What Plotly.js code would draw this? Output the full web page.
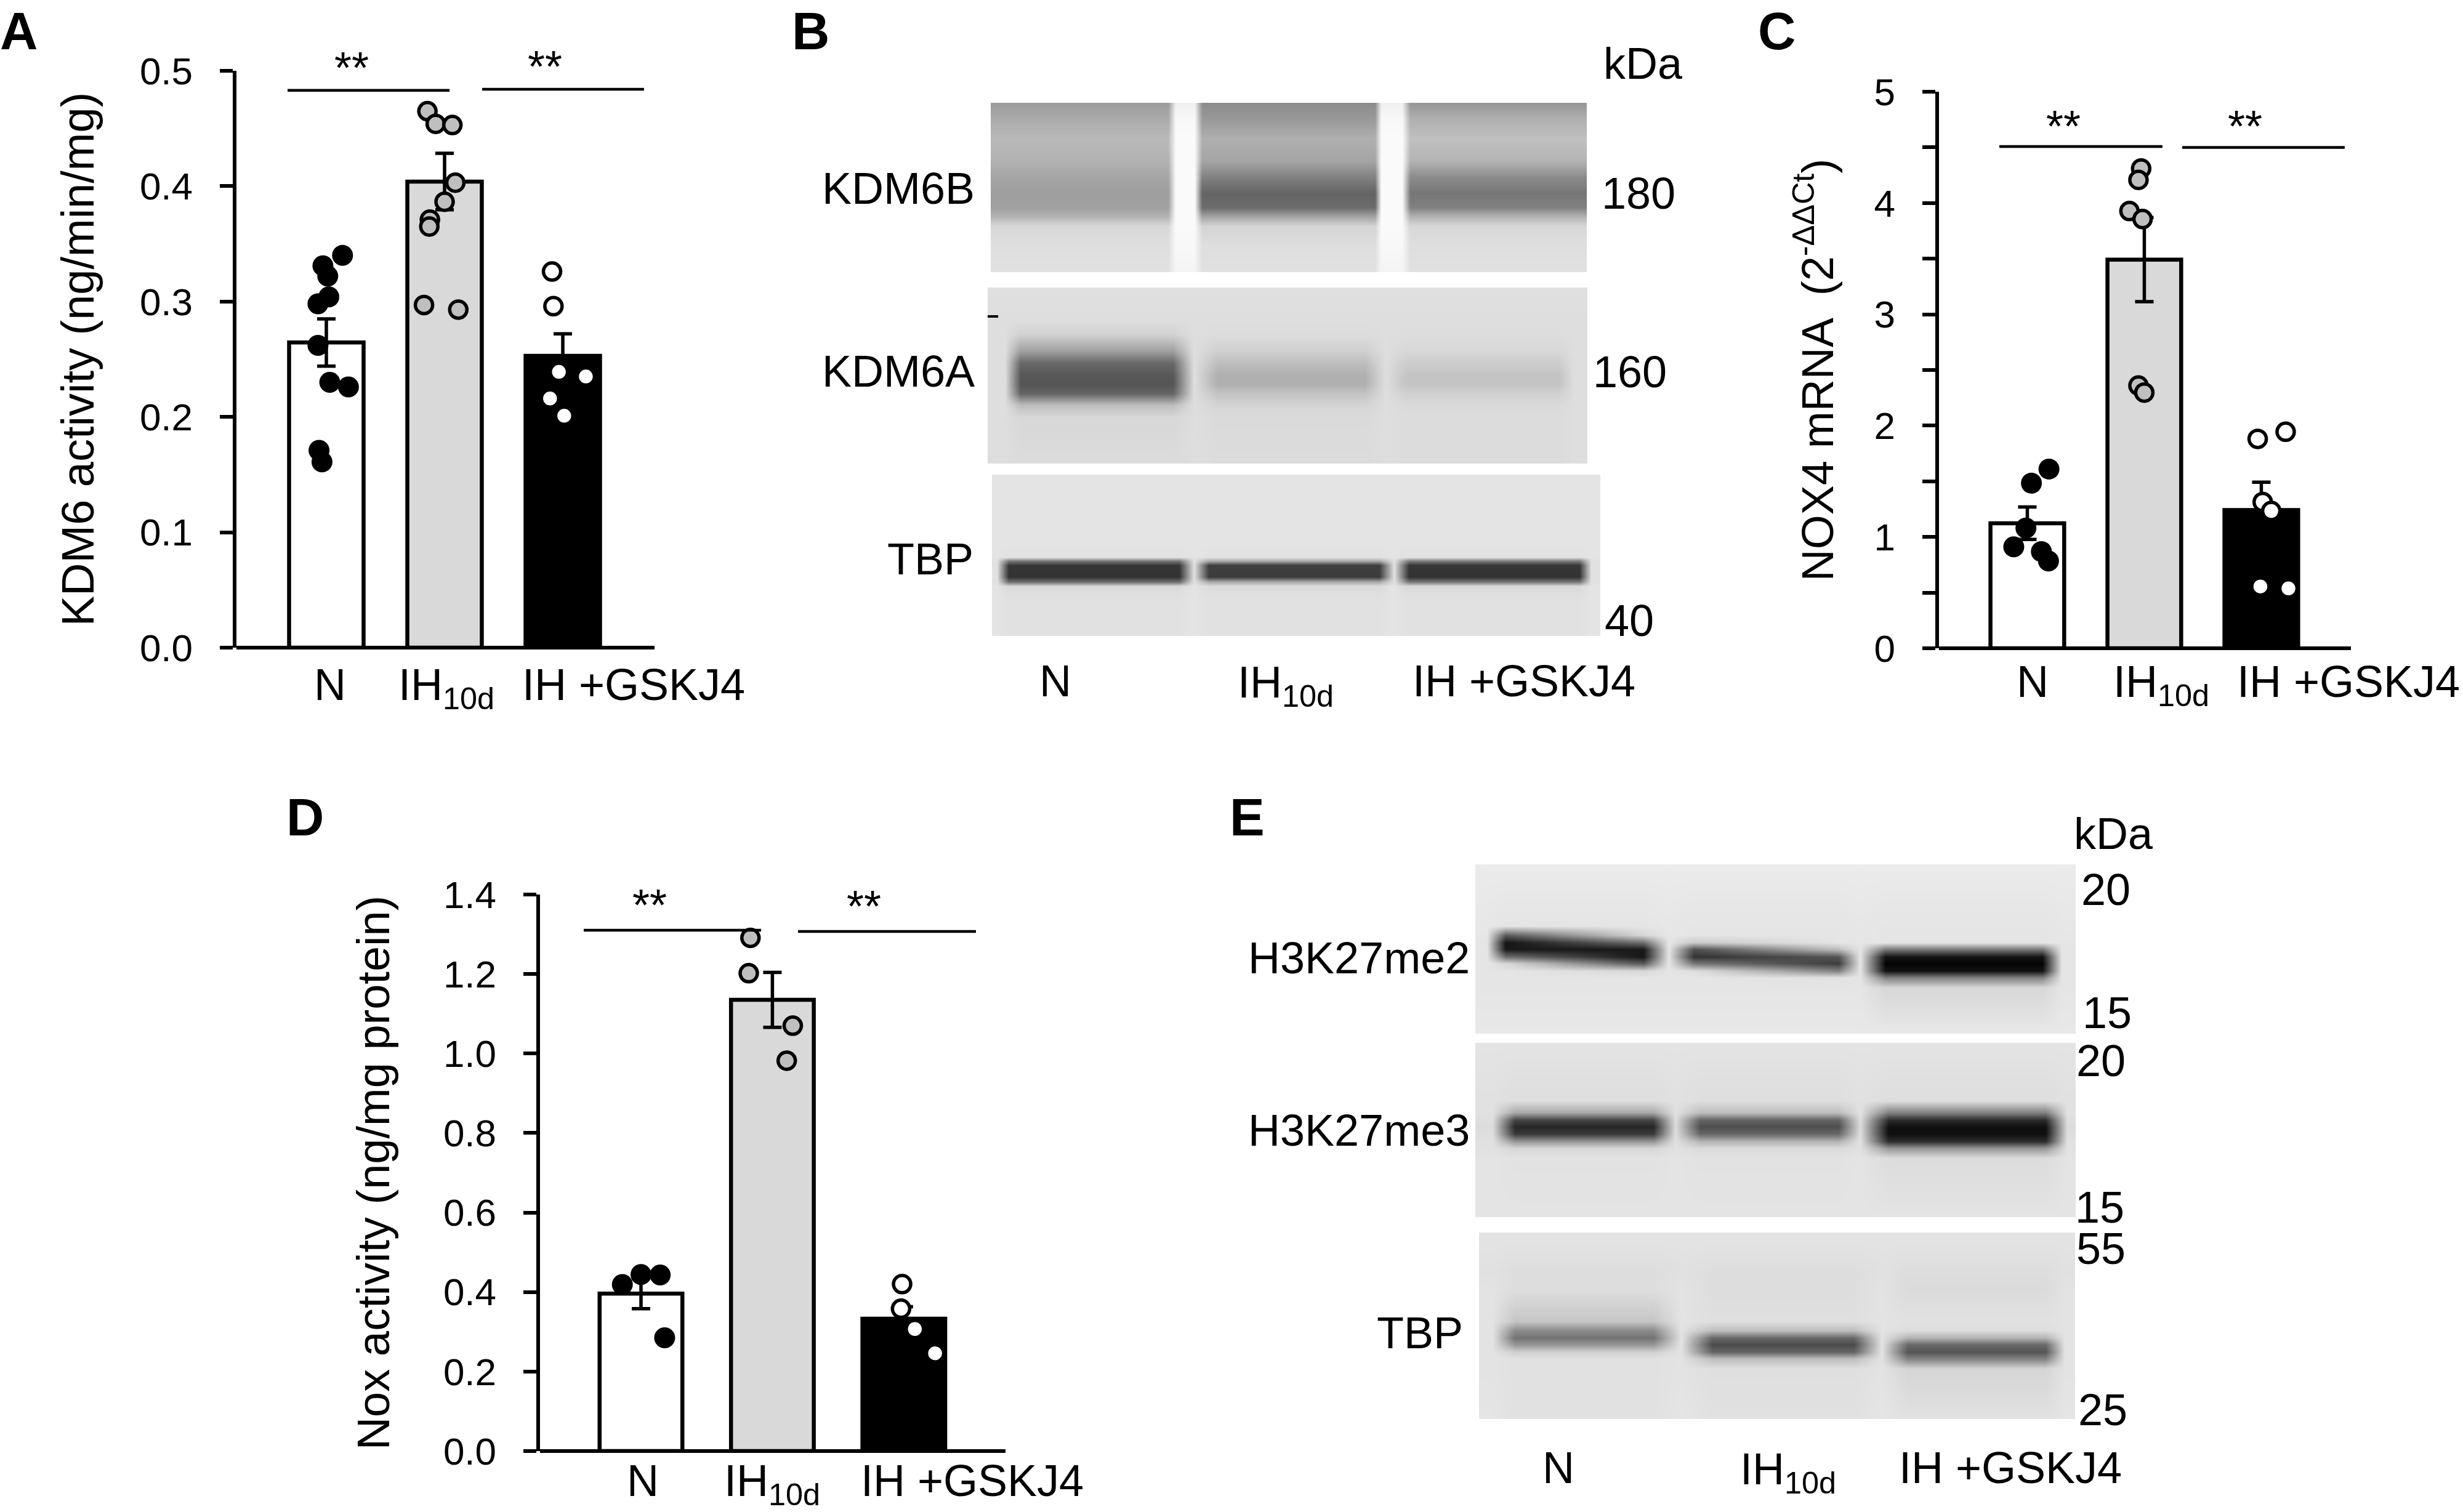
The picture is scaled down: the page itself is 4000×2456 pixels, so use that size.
<!DOCTYPE html>
<html>
<head>
<meta charset="utf-8">
<script src="https://cdn.plot.ly/plotly-3.0.1.min.js"></script>
<style>html,body{margin:0;padding:0;background:#fff}</style>
</head>
<body>
<div id="plot" style="width:4000px;height:2456px"></div>
<script>
const W = 4000, H = 2456;
const FONT = "'Liberation Sans', Arial, sans-serif";
const groups = [1, 2, 3];
const barFills = ["#ffffff", "#d9d9d9", "#000000"];
const dotFills = ["#000000", "#bfbfbf", "#ffffff"];

// panel A
const kdmMeans = [0.2645, 0.404, 0.253];
const kdmErr = [0.0205, 0.0245, 0.019];
const kdmNx = [1.137, 0.971, 1.012, 1.021, 0.929, 0.929, 1.029, 1.187, 0.938, 0.963];
const kdmNy = [0.340, 0.331, 0.322, 0.304, 0.298, 0.262, 0.230, 0.226, 0.171, 0.161];
const kdmIHx = [1.855, 1.925, 2.066, 2.091, 2.0, 1.876, 1.871, 1.826, 2.116];
const kdmIHy = [0.465, 0.454, 0.453, 0.403, 0.3865, 0.371, 0.365, 0.297, 0.293];
const kdmGSx = [2.909, 2.921, 2.967, 3.195, 2.892, 3.012];
const kdmGSy = [0.326, 0.296, 0.239, 0.235, 0.216, 0.201];

// panel C
const noxMeans = [1.123, 3.492, 1.242];
const noxErr = [0.146, 0.378, 0.25];
const noxNx = [1.185, 1.035, 0.988, 0.884, 1.12, 1.181];
const noxNy = [1.61, 1.483, 1.08, 0.911, 0.869, 0.784];
const noxIHx = [1.973, 1.95, 1.873, 1.985, 1.95, 2.0];
const noxIHy = [4.31, 4.208, 3.928, 3.856, 2.36, 2.297];
const noxGSx = [3.208, 2.969, 3.012, 3.085, 2.992, 3.232];
const noxGSy = [1.945, 1.881, 1.314, 1.233, 0.555, 0.538];

// panel D
const actMeans = [0.396, 1.135, 0.333];
const actErr = [0.038, 0.069, 0.03];
const actNx = [0.858, 1.0, 1.146, 1.18];
const actNy = [0.419, 0.444, 0.443, 0.285];
const actIHx = [1.833, 1.82, 2.155, 2.109];
const actIHy = [1.291, 1.202, 1.07, 0.982];
const actGSx = [2.987, 2.979, 3.084, 3.238];
const actGSy = [0.42, 0.358, 0.307, 0.246];

const xLabels = ["N", "IH<sub>10d</sub>", "IH +GSKJ4"];

// blot B: KDM6B
const b1Cols = [0, 0.298, 0.31, 0.342, 0.354, 0.645, 0.655, 0.69, 0.704, 1];
const b1Rows = [0, 0.09, 0.21, 0.34, 0.436, 0.533, 0.617, 0.672, 0.728, 0.839, 1];
const b1Bg = [240, 248, 250, 250, 250, 250, 250, 250, 250, 248, 244];
const b1N = [155, 170, 185, 178, 165, 158, 160, 180, 215, 222, 225];
const b1IH = [140, 152, 175, 165, 130, 100, 108, 165, 212, 222, 225];
const b1GS = [150, 175, 192, 180, 140, 118, 130, 180, 215, 222, 225];

// blot B: KDM6A
const b2Cols = [0, 0.029, 0.054, 0.309, 0.344, 0.383, 0.629, 0.663, 0.697, 0.953, 0.977, 1];
const b2Rows = [0, 0.187, 0.267, 0.361, 0.428, 0.495, 0.548, 0.602, 0.668, 0.735, 1];
const b2Bg = [224, 222, 222, 222, 222, 222, 222, 222, 222, 222, 222];
const b2N = [224, 222, 210, 160, 105, 88, 85, 100, 190, 215, 220];
const b2IH = [224, 222, 220, 208, 190, 176, 176, 195, 212, 218, 220];
const b2GS = [224, 222, 221, 216, 205, 196, 196, 208, 218, 220, 220];

// blot B: TBP
const b3Cols = [0, 0.008, 0.027, 0.308, 0.332, 0.356, 0.637, 0.661, 0.685, 0.966, 0.985, 1];
const b3Rows = [0, 0.415, 0.51, 0.535, 0.56, 0.635, 0.665, 0.69, 0.781, 1];
const b3Bg = [228, 228, 228, 225, 225, 225, 225, 228, 228, 228];
const b3N = [228, 228, 225, 120, 55, 50, 110, 218, 225, 225];
const b3IH = [228, 228, 226, 170, 62, 60, 170, 220, 225, 225];
const b3GS = [228, 228, 225, 125, 55, 50, 120, 218, 225, 225];

// blot E: H3K27me2
const e1Cols = [0, 0.019, 0.05, 0.28, 0.322, 0.364, 0.605, 0.641, 0.683, 0.945, 0.976, 1];
const e1Rows = [0, 0.363, 0.419, 0.461, 0.503, 0.545, 0.587, 0.629, 0.67, 0.726, 1];
const e1Bg = [235, 231, 230, 229, 229, 229, 229, 229, 229, 229, 232];
const e1NL = [235, 229, 90, 20, 25, 110, 215, 229, 229, 229, 232];
const e1NR = [235, 229, 215, 110, 25, 22, 90, 215, 229, 229, 232];
const e1IHL = [235, 229, 229, 200, 80, 50, 120, 222, 229, 229, 232];
const e1IHR = [235, 229, 229, 229, 190, 85, 60, 130, 225, 229, 232];
const e1GS = [235, 229, 229, 229, 120, 18, 5, 18, 130, 215, 232];

// blot E: H3K27me3
const e2Cols = [0, 0.029, 0.066, 0.296, 0.333, 0.374, 0.605, 0.641, 0.688, 0.95, 0.986, 1];
const e2Rows = [0, 0.333, 0.401, 0.442, 0.482, 0.523, 0.564, 0.604, 0.659, 1];
const e2Bg = [228, 225, 225, 222, 220, 222, 225, 225, 228, 228];
const e2N = [228, 222, 170, 70, 38, 60, 150, 215, 226, 228];
const e2IH = [228, 222, 190, 100, 78, 105, 180, 218, 226, 228];
const e2GS = [228, 222, 130, 45, 15, 15, 45, 150, 220, 228];

// blot E: TBP
const e3Cols = [0, 0.023, 0.06, 0.292, 0.339, 0.392, 0.629, 0.676, 0.719, 0.95, 0.982, 1];
const e3Rows = [0, 0.208, 0.31, 0.475, 0.525, 0.563, 0.602, 0.64, 0.678, 0.728, 1];
const e3Bg = [228, 225, 227, 227, 227, 227, 227, 227, 227, 227, 229];
const e3N = [229, 221, 221, 198, 140, 115, 150, 208, 225, 225, 225];
const e3IH = [229, 221, 221, 223, 190, 105, 75, 100, 190, 223, 225];
const e3GS = [229, 221, 219, 225, 221, 180, 105, 85, 130, 213, 225];

function domX(a, b) { return [a / W, b / W]; }
function domY(top, bottom) { return [1 - bottom / H, 1 - top / H]; }

function barPanel(n, means, err, pts) {
	const out = [{
		type: "bar", x: groups, y: means, width: 0.63,
		marker: { color: barFills, line: { color: "#000", width: 6.5 } },
		error_y: { type: "data", array: err, color: "#000", thickness: 5.5, width: 15 },
		xaxis: "x" + n, yaxis: "y" + n, showlegend: false
	}];
	pts.forEach(function (p, i) {
		const hollow = i > 0;
		out.push({
			type: "scatter", mode: "markers", x: p[0], y: p[1],
			marker: {
				color: dotFills[i], size: hollow ? 28 : 34,
				line: { color: "#000", width: hollow ? 5.5 : 0 }
			},
			xaxis: "x" + n, yaxis: "y" + n, showlegend: false
		});
	});
	return out;
}

function blot(n, cols, rows, lanes) {
	// one column of z per entry in lanes, rows run top to bottom
	const z = rows.map(function (_, r) { return lanes.map(function (l) { return l[r]; }); });
	return {
		type: "heatmap", x: cols, y: rows, z: z, zsmooth: "best", zmin: 0, zmax: 255,
		colorscale: [[0, "rgb(0,0,0)"], [1, "rgb(255,255,255)"]], showscale: false,
		hoverinfo: "skip", xaxis: "x" + n, yaxis: "y" + n
	};
}

function chartAxes(left, right, top, bottom, x0, x1, ymax, yticks, yfmt, tickvals, labelGap, title, titleSize, standoff) {
	return {
		x: {
			domain: domX(left, right), range: [x0, x1], showline: false, zeroline: false, showgrid: false,
			tickmode: "array", tickvals: tickvals, ticktext: xLabels, ticks: "", ticklabelstandoff: labelGap,
			tickfont: { size: 72 }, fixedrange: true
		},
		y: {
			domain: domY(top, bottom), range: [0, ymax], showline: true, linewidth: 6.5, linecolor: "#000",
			zeroline: true, zerolinewidth: 6.5, zerolinecolor: "#000", showgrid: false,
			tickmode: "array", tickvals: yticks, ticktext: yfmt, ticks: "outside", ticklen: 21, tickwidth: 6,
			tickcolor: "#000", ticklabelstandoff: 31, tickfont: { size: 62 }, fixedrange: true,
			title: { text: title, font: { size: titleSize }, standoff: standoff }
		}
	};
}

const data = [
	...barPanel(1, kdmMeans, kdmErr, [[kdmNx, kdmNy], [kdmIHx, kdmIHy], [kdmGSx, kdmGSy]]),
	...barPanel(2, noxMeans, noxErr, [[noxNx, noxNy], [noxIHx, noxIHy], [noxGSx, noxGSy]]),
	...barPanel(3, actMeans, actErr, [[actNx, actNy], [actIHx, actIHy], [actGSx, actGSy]]),
	blot(4, b1Cols, b1Rows, [b1N, b1N, b1Bg, b1Bg, b1IH, b1IH, b1Bg, b1Bg, b1GS, b1GS]),
	blot(5, b2Cols, b2Rows, [b2Bg, b2Bg, b2N, b2N, b2Bg, b2IH, b2IH, b2Bg, b2GS, b2GS, b2Bg, b2Bg]),
	blot(6, b3Cols, b3Rows, [b3Bg, b3Bg, b3N, b3N, b3Bg, b3IH, b3IH, b3Bg, b3GS, b3GS, b3Bg, b3Bg]),
	blot(7, e1Cols, e1Rows, [e1Bg, e1Bg, e1NL, e1NR, e1Bg, e1IHL, e1IHR, e1Bg, e1GS, e1GS, e1Bg, e1Bg]),
	blot(8, e2Cols, e2Rows, [e2Bg, e2Bg, e2N, e2N, e2Bg, e2IH, e2IH, e2Bg, e2GS, e2GS, e2Bg, e2Bg]),
	blot(9, e3Cols, e3Rows, [e3Bg, e3Bg, e3N, e3N, e3Bg, e3IH, e3IH, e3Bg, e3GS, e3GS, e3Bg, e3Bg])
];

const axA = chartAxes(384, 1063, 115, 1052, 0.2396, 3.776,
	0.5, [0, 0.1, 0.2, 0.3, 0.4, 0.5], ["0.0", "0.1", "0.2", "0.3", "0.4", "0.5"],
	[1.031, 2.016, 3.599], 12, "\u00a0\u00a0KDM6 activity (ng/min/mg)", 74, 52);
const axC = chartAxes(3149, 3818, 149, 1053, 0.245, 3.766,
	5, [0, 1, 2, 3, 4, 5], ["0", "1", "2", "3", "4", "5"],
	[1.045, 2.145, 3.745], 6, "NOX4 mRNA \u00a0(2<sup>-\u0394\u0394Ct</sup>)\u00a0", 72, 45);
axC.y.minor = { tick0: 0, dtick: 0.5, ticks: "outside", ticklen: 21, tickwidth: 6, tickcolor: "#000", showgrid: false };
const axD = chartAxes(877, 1633, 1453, 2357, 0.2315, 3.774,
	1.4, [0, 0.2, 0.4, 0.6, 0.8, 1.0, 1.2, 1.4], ["0.0", "0.2", "0.4", "0.6", "0.8", "1.0", "1.2", "1.4"],
	[1.014, 1.998, 3.521], 0, "Nox activity (ng/mg protein)\u00a0\u00a0", 74, 65);

function hiddenAxes(left, right, top, bottom) {
	return {
		x: { domain: domX(left, right), range: [0, 1], visible: false, fixedrange: true },
		y: { domain: domY(top, bottom), range: [1, 0], visible: false, fixedrange: true }
	};
}

const layout = {
	width: W, height: H, margin: { l: 0, r: 0, t: 0, b: 0 }, showlegend: false,
	paper_bgcolor: "#fff", plot_bgcolor: "rgba(0,0,0,0)",
	font: { family: FONT, color: "#000" }, bargap: 0
};

const panels = [axA, axC, axD,
	hiddenAxes(1609, 2577, 167, 442), hiddenAxes(1604, 2578, 467, 753), hiddenAxes(1611, 2599, 771, 1033),
	hiddenAxes(2396, 3371, 1404, 1679), hiddenAxes(2396, 3371, 1694, 1977), hiddenAxes(2402, 3370, 2002, 2305)];
panels.forEach(function (p, i) {
	const n = i + 1, s = n === 1 ? "" : n;
	layout["xaxis" + s] = Object.assign(p.x, { anchor: "y" + s });
	layout["yaxis" + s] = Object.assign(p.y, { anchor: "x" + s });
});

function sig(xref, yref, a, b, y) {
	return { type: "line", xref: xref, yref: yref, x0: a, x1: b, y0: y, y1: y, line: { color: "#000", width: 4.5 } };
}
layout.shapes = [
	sig("x", "y", 0.672, 2.042, 0.483), sig("x", "y", 2.318, 3.687, 0.484),
	sig("x2", "y2", 0.761, 2.155, 4.508), sig("x2", "y2", 2.324, 3.713, 4.50),
	sig("x3", "y3", 0.564, 1.914, 1.310), sig("x3", "y3", 2.195, 3.549, 1.307),
	{ type: "line", xref: "paper", yref: "paper", x0: 1604 / W, x1: 1621 / W, y0: 1 - 514 / H, y1: 1 - 514 / H, line: { color: "#000", width: 4 } }
];

function txt(text, x, y, size, anchor, bold) {
	return {
		text: bold ? "<b>" + text + "</b>" : text, xref: "paper", yref: "paper", x: x / W, y: 1 - y / H,
		xanchor: anchor || "center", yanchor: "middle", showarrow: false, font: { size: size }
	};
}
layout.annotations = [
	txt("A", 30, 50, 85, "center", true), txt("B", 1316, 50, 85, "center", true), txt("C", 2885, 50, 85, "center", true),
	txt("D", 495, 1327, 85, "center", true), txt("E", 2025, 1327, 85, "center", true),
	txt("**", 571, 110, 72), txt("**", 885, 108, 72),
	txt("**", 3351, 205, 72), txt("**", 3646, 205, 72),
	txt("**", 1055, 1470, 72), txt("**", 1403, 1472, 72),
	// panel B labels
	txt("KDM6B", 1585, 306, 72, "right"), txt("KDM6A", 1585, 603, 72, "right"), txt("TBP", 1583, 908, 72, "right"),
	txt("kDa", 2602, 103, 72, "left"), txt("180", 2599, 314, 72, "left"), txt("160", 2585, 604, 72, "left"), txt("40", 2604, 1008, 72, "left"),
	txt("N", 1714, 1106, 72), txt("IH<sub>10d</sub>", 2088, 1113, 72), txt("IH +GSKJ4", 2475, 1106, 72),
	// panel E labels
	txt("H3K27me2", 2389, 1556, 72, "right"), txt("H3K27me3", 2389, 1836, 72, "right"), txt("TBP", 2378, 2165, 72, "right"),
	txt("kDa", 3366, 1354, 72, "left"), txt("20", 3378, 1445, 72, "left"), txt("15", 3380, 1645, 72, "left"),
	txt("20", 3370, 1723, 72, "left"), txt("15", 3368, 1961, 72, "left"), txt("55", 3370, 2028, 72, "left"), txt("25", 3373, 2290, 72, "left"),
	txt("N", 2531, 2384, 72), txt("IH<sub>10d</sub>", 2904, 2391, 72), txt("IH +GSKJ4", 3265, 2384, 72)
];

Plotly.newPlot("plot", data, layout, { displayModeBar: false, staticPlot: true });
</script>
</body>
</html>
